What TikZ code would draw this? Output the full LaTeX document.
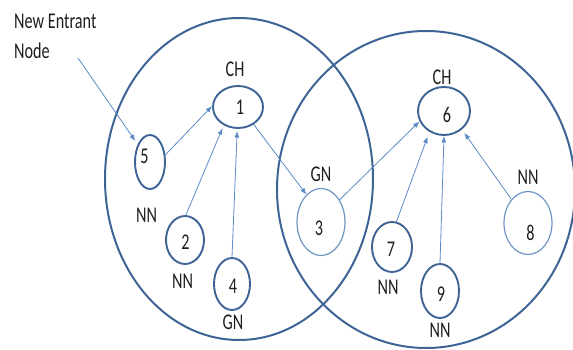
\documentclass[tikz,border=0pt]{standalone}
\usepackage{fontspec}
\setmainfont{Carlito}[FakeStretch=0.72]
\usetikzlibrary{shapes.geometric,arrows.meta}
\definecolor{darkring}{RGB}{62,100,150}
\definecolor{lightring}{RGB}{112,148,194}
\definecolor{arrowblue}{RGB}{92,138,198}
\definecolor{txt}{RGB}{30,30,30}
\tikzset{
  bigring/.style={draw=darkring,line width=2pt,ellipse,inner sep=0pt},
  darknode/.style={draw=darkring,line width=1.9pt,ellipse,inner sep=0pt},
  lightnode/.style={draw=lightring,line width=1.2pt,ellipse,inner sep=0pt},
  lbl/.style={text=txt,font=\fontsize{22.5}{27}\selectfont,inner sep=0pt,anchor=base},
  conn/.style={draw=arrowblue,line width=0.8pt,-{Latex[length=6.5pt,width=5pt]}}
}
\begin{document}
\begin{tikzpicture}[x=1pt,y=-1pt]
\useasboundingbox (0,0) rectangle (573,350);
% big clusters
\node[bigring,minimum width=268pt,minimum height=322pt] (L) at (239,179) {};
\node[bigring,minimum width=298pt,minimum height=317pt] (R) at (426,189.5) {};
% small nodes
\node[darknode,minimum width=50pt,minimum height=42pt] (n1) at (238,107) {};
\node[darknode,minimum width=30pt,minimum height=54pt] (n5) at (150,162) {};
\node[darknode,minimum width=38pt,minimum height=48pt] (n2) at (185,240) {};
\node[darknode,minimum width=36pt,minimum height=52pt] (n4) at (232,284) {};
\node[lightnode,minimum width=48pt,minimum height=67pt] (n3) at (321,222) {};
\node[darknode,minimum width=52pt,minimum height=48pt] (n6) at (444,111) {};
\node[darknode,minimum width=40pt,minimum height=50pt] (n7) at (392,247) {};
\node[darknode,minimum width=38pt,minimum height=54pt] (n9) at (440,291) {};
\node[lightnode,minimum width=48pt,minimum height=63pt] (n8) at (528,223) {};
% numbers
\node[lbl] (t1) at (240,115) {1};
\node[lbl] (t5) at (144.5,164) {5};
\node[lbl] (t2) at (185.5,249) {2};
\node[lbl] (t4) at (233,293) {4};
\node[lbl] (t3) at (319,235) {3};
\node[lbl] (t6) at (447,123) {6};
\node[lbl] (t7) at (391,256) {7};
\node[lbl] (t9) at (441,301) {9};
\node[lbl] (t8) at (530.5,240) {8};
% role labels
\node[lbl] (c1) at (235,77) {CH};
\node[lbl] (c5) at (146.5,222) {NN};
\node[lbl] (c2) at (182.5,288) {NN};
\node[lbl] (c4) at (233,329) {GN};
\node[lbl] (c3) at (321,182) {GN};
\node[lbl] (c6) at (442,85) {CH};
\node[lbl] (c7) at (388,294) {NN};
\node[lbl] (c9) at (440,337) {NN};
\node[lbl] (c8) at (528,185) {NN};
% new entrant text
\node[lbl,anchor=base west] (ne1) at (14,29) {New Entrant};
\node[lbl,anchor=base west] (ne2) at (14,59) {Node};
\coordinate (nes) at (78,58);
% connectors
\draw[conn,shorten >=4pt] (nes) -- (n5.125);
\draw[conn] (n5.25) -- (n1.178);
\draw[conn,shorten >=3pt] (n2.88) -- (n1.232);
\draw[conn,shorten >=2pt] (n4.90) -- (n1.268);
\draw[conn] (n1.312) -- (n3.118);
\draw[conn] (n3.50) -- (n6.203);
\draw[conn,shorten >=5pt] (n7.80) -- (n6.235);
\draw[conn] (n9.90) -- (n6.270);
\draw[conn,shorten >=4pt] (n8.125) -- (n6.314);
\end{tikzpicture}
\end{document}
